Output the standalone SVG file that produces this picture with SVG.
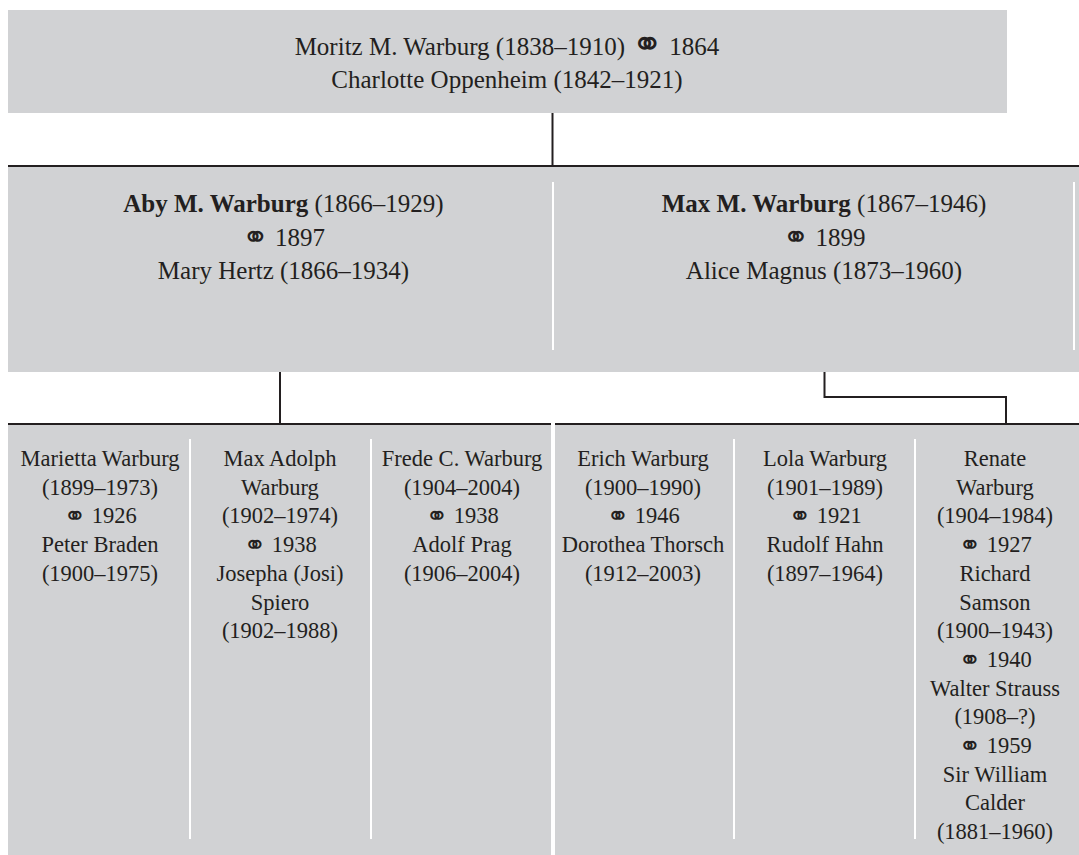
<svg xmlns="http://www.w3.org/2000/svg" width="1079" height="855" viewBox="0 0 1079 855">
<style>
.box{fill:#d1d2d4}
.div{stroke:#ffffff;stroke-width:2}
.ln{stroke:#231f20;stroke-width:2;fill:none}
text{font-family:"Liberation Serif","Times New Roman",serif;fill:#231f20;text-anchor:middle}
.t1{font-size:25px}
.t3{font-size:22.5px}
.b{font-weight:bold}
.m0{font-family:"DejaVu Sans",sans-serif;font-size:38px}
.m1{font-family:"DejaVu Sans",sans-serif;font-size:32px}
.m3{font-family:"DejaVu Sans",sans-serif;font-size:27px}
</style>
<rect width="1079" height="855" fill="#ffffff"/>
<g id="connectors">
<line class="ln" x1="552.5" y1="113" x2="552.5" y2="166"/>
<line class="ln" x1="8" y1="166" x2="1079" y2="166"/>
<line class="ln" x1="280" y1="372" x2="280" y2="424"/>
<polyline class="ln" points="824.5,372 824.5,397 1006,397 1006,424"/>
<line class="ln" x1="8" y1="424" x2="551" y2="424"/>
<line class="ln" x1="555" y1="424" x2="1079" y2="424"/>
</g>
<g id="moritz">
<rect class="box" x="8" y="10" width="999" height="103"/>
<text class="t1" x="507" y="55">Moritz M. Warburg (1838–1910) <tspan class="m0" dy="2">⚭</tspan><tspan dy="-2"> 1864</tspan></text>
<text class="t1" x="507" y="88">Charlotte Oppenheim (1842–1921)</text>
</g>
<g id="row2bg">
<rect class="box" x="8" y="167" width="1071" height="205"/>
<line class="div" x1="553" y1="182" x2="553" y2="350"/>
<line class="div" x1="1074" y1="182" x2="1074" y2="350"/>
</g>
<g id="aby">
<text class="t1" x="283.5" y="212"><tspan class="b">Aby M. Warburg</tspan> (1866–1929)</text>
<text class="t1" x="283.5" y="245.5"><tspan class="m1" dy="2.5">⚭</tspan><tspan dy="-2.5"> 1897</tspan></text>
<text class="t1" x="283.5" y="279">Mary Hertz (1866–1934)</text>
</g>
<g id="max">
<text class="t1" x="824" y="212"><tspan class="b">Max M. Warburg</tspan> (1867–1946)</text>
<text class="t1" x="824" y="245.5"><tspan class="m1" dy="2.5">⚭</tspan><tspan dy="-2.5"> 1899</tspan></text>
<text class="t1" x="824" y="279">Alice Magnus (1873–1960)</text>
</g>
<g id="row3bg">
<rect class="box" x="8" y="425" width="543" height="430"/>
<rect class="box" x="555" y="425" width="524" height="430"/>
<line class="div" x1="190" y1="439" x2="190" y2="839"/>
<line class="div" x1="371" y1="439" x2="371" y2="839"/>
<line class="div" x1="734" y1="439" x2="734" y2="839"/>
<line class="div" x1="915" y1="439" x2="915" y2="839"/>
</g>
<g id="marietta" class="t3">
<text x="100" y="466">Marietta Warburg</text>
<text x="100" y="494.7">(1899–1973)</text>
<text x="100" y="523.4"><tspan class="m3" dy="2">⚭</tspan><tspan dy="-2"> 1926</tspan></text>
<text x="100" y="552.1">Peter Braden</text>
<text x="100" y="580.8">(1900–1975)</text>
</g>
<g id="maxadolph" class="t3">
<text x="280" y="466">Max Adolph</text>
<text x="280" y="494.7">Warburg</text>
<text x="280" y="523.4">(1902–1974)</text>
<text x="280" y="552.1"><tspan class="m3" dy="2">⚭</tspan><tspan dy="-2"> 1938</tspan></text>
<text x="280" y="580.8">Josepha (Josi)</text>
<text x="280" y="609.5">Spiero</text>
<text x="280" y="638.2">(1902–1988)</text>
</g>
<g id="frede" class="t3">
<text x="462" y="466">Frede C. Warburg</text>
<text x="462" y="494.7">(1904–2004)</text>
<text x="462" y="523.4"><tspan class="m3" dy="2">⚭</tspan><tspan dy="-2"> 1938</tspan></text>
<text x="462" y="552.1">Adolf Prag</text>
<text x="462" y="580.8">(1906–2004)</text>
</g>
<g id="erich" class="t3">
<text x="643" y="466">Erich Warburg</text>
<text x="643" y="494.7">(1900–1990)</text>
<text x="643" y="523.4"><tspan class="m3" dy="2">⚭</tspan><tspan dy="-2"> 1946</tspan></text>
<text x="643" y="552.1">Dorothea Thorsch</text>
<text x="643" y="580.8">(1912–2003)</text>
</g>
<g id="lola" class="t3">
<text x="825" y="466">Lola Warburg</text>
<text x="825" y="494.7">(1901–1989)</text>
<text x="825" y="523.4"><tspan class="m3" dy="2">⚭</tspan><tspan dy="-2"> 1921</tspan></text>
<text x="825" y="552.1">Rudolf Hahn</text>
<text x="825" y="580.8">(1897–1964)</text>
</g>
<g id="renate" class="t3">
<text x="995" y="466">Renate</text>
<text x="995" y="494.7">Warburg</text>
<text x="995" y="523.4">(1904–1984)</text>
<text x="995" y="552.1"><tspan class="m3" dy="2">⚭</tspan><tspan dy="-2"> 1927</tspan></text>
<text x="995" y="580.8">Richard</text>
<text x="995" y="609.5">Samson</text>
<text x="995" y="638.2">(1900–1943)</text>
<text x="995" y="666.9"><tspan class="m3" dy="2">⚭</tspan><tspan dy="-2"> 1940</tspan></text>
<text x="995" y="695.6">Walter Strauss</text>
<text x="995" y="724.3">(1908–?)</text>
<text x="995" y="753"><tspan class="m3" dy="2">⚭</tspan><tspan dy="-2"> 1959</tspan></text>
<text x="995" y="781.7">Sir William</text>
<text x="995" y="810.4">Calder</text>
<text x="995" y="839.1">(1881–1960)</text>
</g>
</svg>
